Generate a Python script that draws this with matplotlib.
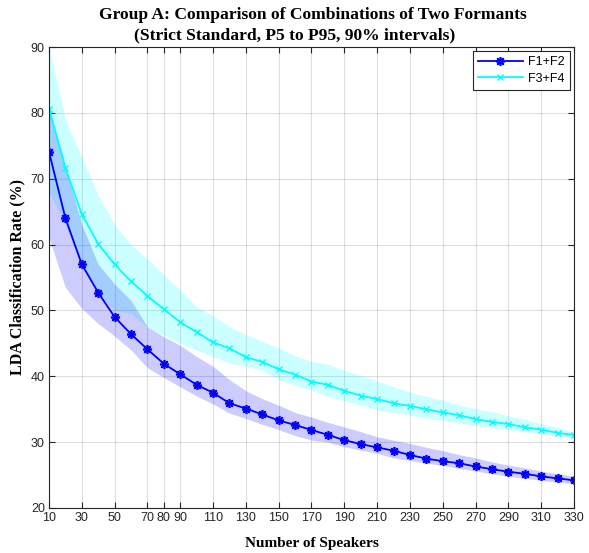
import numpy as np
import matplotlib.pyplot as plt

# number of speakers
speakers = list(range(10, 331, 10))

# F1+F2 mean classification rate and P5/P95 band
f12_mean = [74.1, 64.0, 57.0, 52.7, 49.0, 46.4, 44.1, 41.9, 40.3, 38.7, 37.5,
            35.9, 35.1, 34.2, 33.3, 32.6, 31.85, 31.1, 30.3, 29.7, 29.2, 28.7,
            28.05, 27.5, 27.1, 26.8, 26.3, 25.9, 25.5, 25.2, 24.8, 24.5, 24.2]
f12_hi = [81.0, 72.0, 63.0, 57.0, 54.0, 51.5, 47.5, 46.0, 44.7, 43.0, 41.5,
          39.5, 37.8, 36.6, 35.6, 34.5, 33.8, 33.0, 32.3, 31.6, 30.8, 30.3,
          29.8, 29.2, 28.7, 28.1, 27.6, 27.0, 26.5, 26.1, 25.6, 25.2, 24.8]
f12_lo = [61.0, 53.5, 50.3, 48.0, 46.1, 44.0, 41.3, 39.8, 38.4, 37.0, 35.8,
          34.4, 33.6, 32.7, 31.9, 31.0, 30.3, 30.0, 29.3, 28.8, 28.3, 27.6,
          27.2, 26.8, 26.5, 26.0, 25.6, 25.2, 24.8, 24.5, 24.2, 23.9, 23.7]

# F3+F4 mean classification rate and P5/P95 band
f34_mean = [80.6, 71.6, 64.6, 60.1, 57.0, 54.4, 52.2, 50.2, 48.2, 46.7, 45.15,
            44.25, 42.9, 42.2, 41.06, 40.25, 39.2, 38.7, 37.8, 37.05, 36.55, 35.9,
            35.5, 35.0, 34.5, 34.1, 33.5, 33.06, 32.76, 32.25, 31.9, 31.4, 31.1]
f34_hi = [90.0, 79.0, 73.3, 67.5, 63.0, 60.0, 57.8, 55.4, 53.1, 50.5, 49.2,
          47.5, 46.3, 45.3, 44.3, 43.1, 42.3, 41.8, 40.9, 40.1, 39.3, 38.4,
          37.6, 36.9, 36.4, 35.6, 35.1, 34.6, 34.0, 33.5, 32.8, 32.2, 31.5]
f34_lo = [68.0, 63.0, 56.5, 52.5, 50.0, 49.5, 47.5, 46.2, 45.0, 44.0, 43.0,
          42.0, 41.5, 40.9, 39.5, 38.6, 37.9, 37.0, 36.3, 35.6, 34.9, 34.5,
          34.1, 33.6, 33.3, 32.9, 32.5, 32.2, 31.9, 31.6, 31.3, 31.0, 30.7]

xticks = [10, 30, 50, 70, 80, 90, 110, 130, 150, 170, 190, 210, 230, 250,
          270, 290, 310, 330]

serif = 'Liberation Serif'
sans = 'Liberation Sans'
dark = '#262626'

fig = plt.figure(figsize=(5.89, 5.53), dpi=100)
ax = fig.add_axes([0.0832, 0.0814, 0.8913, 0.8336])

ax.fill_between(speakers, f34_lo, f34_hi, color='cyan', alpha=0.2, linewidth=0)
ax.fill_between(speakers, f12_lo, f12_hi, color='blue', alpha=0.2, linewidth=0)

# asterisk marker like matlab's '*'
ax.plot(speakers, f12_mean, color='blue', marker=(8, 2, 0), markersize=6.5,
        markeredgewidth=1.2, linewidth=1.3, label='F1+F2')
ax.plot(speakers, f34_mean, color='cyan', marker='x', markersize=4.5,
        markeredgewidth=1.0, linewidth=1.3, label='F3+F4')

ax.set_xlim(10, 330)
ax.set_ylim(20, 90)
ax.set_xticks(xticks)
ax.set_yticks(range(20, 91, 10))
ax.grid(True, color=dark, alpha=0.15, linewidth=0.8)
ax.set_axisbelow(True)
ax.tick_params(direction='in', top=True, right=True, length=4, width=0.8,
               labelsize=9, colors=dark, pad=3)
for lbl in ax.get_xticklabels() + ax.get_yticklabels():
    lbl.set_fontfamily(sans)
    lbl.set_color(dark)
for sp in ax.spines.values():
    sp.set_color(dark)
    sp.set_linewidth(0.8)

ax.set_xlabel('Number of Speakers', fontfamily=serif, fontweight='bold',
              fontsize=11, labelpad=9)
ax.set_ylabel('LDA Classification Rate (%)', fontfamily=serif,
              fontweight='bold', fontsize=11.5, labelpad=4)

ax.text(0.503, 1.070, 'Group A: Comparison of Combinations of Two Formants',
        transform=ax.transAxes, ha='center', va='center', fontfamily=serif,
        fontweight='bold', fontsize=12.6)
ax.text(0.467, 1.025, '(Strict Standard, P5 to P95, 90% intervals)',
        transform=ax.transAxes, ha='center', va='center', fontfamily=serif,
        fontweight='bold', fontsize=12.6)

leg = ax.legend(loc='upper right', prop={'family': sans, 'size': 9},
                fancybox=False, edgecolor=dark, framealpha=1,
                borderaxespad=0.35, handlelength=3.6, handletextpad=0.4,
                borderpad=0.4, labelspacing=0.35)
leg.get_frame().set_linewidth(0.8)

fig.savefig('out.png', dpi=100)
